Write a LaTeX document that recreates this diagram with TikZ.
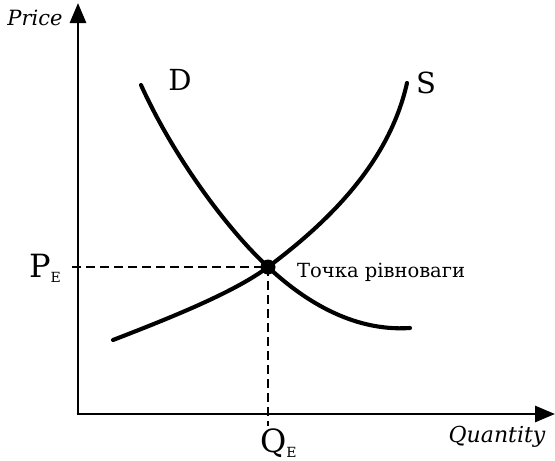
\documentclass[tikz,border=0pt]{standalone}
\usepackage{fontspec}
\setmainfont{DejaVu Serif}
\usetikzlibrary{arrows.meta}
\begin{document}
\begin{tikzpicture}[x=1pt,y=-1pt,
  axis/.style={line width=2.9pt,-{Triangle[length=20pt,width=16pt]}},
  curve/.style={line width=4.1pt,line cap=round},
  guide/.style={line width=1.8pt,dash pattern=on 9pt off 5pt},
  lbl/.style={inner sep=0pt,font=\fontsize{29}{29}\selectfont}]
\useasboundingbox (0,0) rectangle (555,461);
\coordinate (O) at (78,414);
\coordinate (ytop) at (78,3);
\coordinate (xend) at (555,414);
\coordinate (E) at (268,267);
\coordinate (pl) at (72,267);
\coordinate (qb) at (268,426);
\draw[axis] (78,415.4) -- (ytop);
\draw[axis] (76.6,414) -- (xend);
\draw[guide] (pl) -- (E);
\draw[guide] (E) -- (qb);
\draw[curve] (141,85) .. controls (175,160) and (230,232) .. (E)
  .. controls (300,297) and (350,332) .. (410,328);
\draw[curve] (113,340) .. controls (170,318) and (235,292) .. (E)
  .. controls (320,228) and (388,168) .. (407,83);
\fill (E) circle (7.5);
\node[lbl] (D) at (180,80) {D};
\node[lbl] (S) at (426,83) {S};
\node[inner sep=0pt,font=\fontsize{19.5}{19.5}\selectfont,anchor=west] (eq) at (297,272) {Точка рівноваги};
\node[inner sep=0pt,font=\fontsize{21}{21}\selectfont\itshape] (price) at (35,18) {Price};
\node[inner sep=0pt,font=\fontsize{22}{22}\selectfont\itshape] (qty) at (497,437) {Quantity};
\node[inner sep=0pt,anchor=base west] (pe) at (29,277) {\fontsize{32}{32}\selectfont P\raisebox{-5pt}{\fontsize{14}{14}\selectfont E}};
\node[inner sep=0pt,anchor=base west] (qe) at (260,452) {\fontsize{32}{32}\selectfont Q\raisebox{-5pt}{\fontsize{14}{14}\selectfont E}};
\end{tikzpicture}
\end{document}
